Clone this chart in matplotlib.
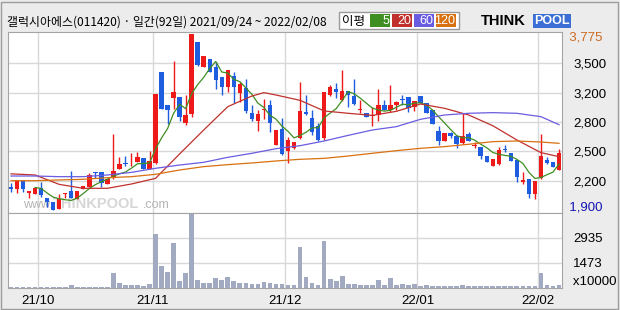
import matplotlib.pyplot as plt
import numpy as np
import pandas as pd
from matplotlib.patches import Rectangle

plt.rcParams['font.family'] = ['Noto Sans CJK KR', 'DejaVu Sans']

# 갤럭시아에스 일봉 (원), 2021/09/24 ~ 2022/02/08
opens = [2150, 2125, 2210, 2085, 2075, 2135, 2030, 1990, 1910, 2070,
         2100, 2020, 2120, 2150, 2310, 2300, 2180, 2245, 2335, 2400,
         2385, 2415, 2455, 2335, 2405, 3365, 3020, 3095, 3105, 2830,
         2925, 3690, 3425, 3510, 3425, 3320, 3215, 3325, 3150, 3200,
         2935, 2850, 2960, 3020, 2595, 2765, 2530, 2565, 2665, 2945,
         2880, 2795, 2665, 3125, 3190, 3070, 3165, 3115, 2960, 2930,
         2900, 2910, 3020, 2965, 3020, 3080, 3105, 3000, 3115, 3045,
         2960, 2745, 2630, 2720, 2690, 2615, 2710, 2580, 2575, 2475,
         2370, 2390, 2550, 2505, 2435, 2200, 2230, 2070, 2245, 2435,
         2410, 2325]
highs = [2190, 2220, 2215, 2100, 2135, 2200, 2030, 1990, 2075, 2080,
         2320, 2100, 2160, 2290, 2310, 2300, 2235, 2710, 2460, 2475,
         2505, 2520, 2455, 2530, 3135, 3375, 3020, 3485, 3105, 3125,
         3775, 3690, 3540, 3510, 3480, 3320, 3390, 3365, 3265, 3295,
         3020, 2965, 3085, 3070, 2750, 2875, 2675, 2625, 3265, 3125,
         2965, 2825, 3155, 3230, 3255, 3390, 3165, 3295, 3070, 2930,
         2995, 3185, 3070, 3230, 3065, 3125, 3105, 3060, 3115, 3045,
         2960, 2790, 2725, 2735, 2690, 2935, 2730, 2625, 2575, 2475,
         2440, 2575, 2595, 2505, 2435, 2310, 2230, 2210, 2710, 2460,
         2415, 2555]
lows = [2095, 2085, 2095, 2025, 2075, 2040, 1935, 1895, 1910, 2025,
        2030, 2020, 2120, 2150, 2245, 2150, 2180, 2225, 2335, 2370,
        2370, 2415, 2340, 2335, 2390, 2975, 2815, 2975, 2850, 2805,
        2895, 3435, 3425, 3365, 3190, 3120, 3160, 3035, 3055, 2930,
        2850, 2745, 2870, 2735, 2595, 2485, 2405, 2545, 2655, 2910,
        2700, 2640, 2645, 3110, 3090, 3065, 3000, 3020, 2930, 2890,
        2795, 2850, 2960, 2945, 2965, 3020, 2945, 2950, 3035, 2930,
        2815, 2590, 2630, 2665, 2560, 2605, 2640, 2560, 2440, 2415,
        2370, 2380, 2520, 2425, 2200, 2175, 2025, 2015, 2225, 2390,
        2355, 2325]
closes = [2120, 2220, 2125, 2100, 2135, 2065, 1980, 1905, 2015, 2080,
          2030, 2100, 2155, 2275, 2290, 2185, 2235, 2320, 2395, 2385,
          2395, 2465, 2340, 2420, 3135, 2975, 2965, 3155, 2895, 2910,
          3775, 3445, 3540, 3365, 3285, 3215, 3390, 3205, 3240, 2955,
          2870, 2920, 2975, 2825, 2750, 2495, 2645, 2625, 2955, 2920,
          2735, 2645, 3155, 3205, 3160, 3170, 3120, 3030, 2975, 2895,
          2910, 3020, 2965, 3020, 3055, 3075, 2985, 3060, 3035, 2930,
          2815, 2630, 2725, 2690, 2605, 2690, 2640, 2595, 2475, 2415,
          2440, 2540, 2540, 2425, 2255, 2220, 2070, 2210, 2475, 2405,
          2355, 2505]
# 거래량 (x10000)
volumes = [80, 80, 80, 80, 80, 80, 80, 80, 80, 80,
           160, 80, 80, 80, 80, 80, 80, 880, 275, 175,
           175, 175, 100, 235, 3175, 1295, 940, 2645, 410, 880,
           4330, 470, 295, 295, 590, 450, 645, 410, 295, 295,
           215, 255, 355, 295, 255, 215, 175, 175, 2410, 645,
           295, 160, 2765, 510, 390, 685, 235, 235, 175, 175,
           175, 450, 175, 570, 175, 215, 175, 215, 100, 160,
           100, 120, 120, 100, 100, 160, 100, 100, 100, 100,
           100, 100, 100, 100, 100, 100, 100, 100, 880, 160,
           120, 160]

# 이동평균선
ma_idx = [0, 4, 8, 12, 16, 20, 24, 28, 32, 36, 40, 44, 48, 52, 56, 60,
          64, 68, 72, 76, 80, 84, 88, 91]
ma20_idx = [0, 4, 8, 12, 16, 20, 24, 28, 32, 36, 40, 42, 44, 48, 52, 56,
            60, 64, 68, 72, 76, 80, 84, 88, 91]
ma20 = [2285, 2273, 2173, 2131, 2131, 2177, 2237, 2497, 2752, 3001, 3114,
        3150, 3125, 3068, 2955, 2930, 2908, 2951, 3029, 2983, 2912, 2798,
        2646, 2511, 2468]
ma60 = [2262, 2262, 2255, 2255, 2273, 2301, 2344, 2379, 2408, 2461, 2504,
        2553, 2585, 2635, 2695, 2752, 2788, 2866, 2912, 2930, 2937, 2930,
        2894, 2809]
ma120 = [2212, 2212, 2220, 2227, 2244, 2255, 2280, 2326, 2362, 2383, 2401,
         2422, 2440, 2450, 2475, 2504, 2532, 2557, 2575, 2600, 2628, 2635,
         2624, 2610]

price_ticks = [2212.5, 2525, 2837.5, 3150, 3462.5]
price_labels = ['2,200', '2,500', '2,800', '3,200', '3,500']
vol_ticks = [1473, 2935]
holidays = ['2021-10-04', '2021-10-11', '2021-12-31', '2022-01-31',
            '2022-02-01', '2022-02-02']

RED = '#ee1a1a'
BLUE = '#1f5de0'
C5, C20, C60, C120 = '#3e8e22', '#c0302c', '#6a5ce0', '#d87010'
GRID = '#d8d8d8'
EDGE = '#a4a4a4'
NUM = ['Liberation Sans', 'DejaVu Sans']

dates = pd.bdate_range('2021-09-24', '2022-02-08')
dates = dates[~dates.isin(pd.to_datetime(holidays))]
o, h, l, c = map(np.array, (opens, highs, lows, closes))
x = np.arange(len(c))
ma5 = pd.Series(c).rolling(5).mean()

W, H = 620, 310
fig = plt.figure(figsize=(W / 100, H / 100), dpi=100, facecolor='#ececec')
fig.patches.append(Rectangle((1 / W, 1 / H), 617 / W, 307 / H, transform=fig.transFigure,
                             fill=False, ec='#9c9c9c', lw=1))

ax = fig.add_axes([8 / W, 1 - 213 / H, 554 / W, 181 / H])
axv = fig.add_axes([8 / W, 1 - 288 / H, 554 / W, 75 / H], sharex=ax)

# 월 구분선
months = [i for i in range(1, len(dates)) if dates[i].month != dates[i - 1].month]
for a in (ax, axv):
    a.set_facecolor('white')
    for i in months:
        a.axvline(i - 0.5, color=GRID, lw=1, zorder=0)
    for s in a.spines.values():
        s.set_color(EDGE)
    a.tick_params(length=0)

for v in price_ticks:
    ax.axhline(v, color=GRID, lw=1, zorder=0)
for v in vol_ticks:
    axv.axhline(v, color=GRID, lw=1, zorder=0)

# 워터마크
ax.text(2.0, 1958, 'www.', color='#b4b4b4', fontsize=9, family=NUM, ha='left', va='center', zorder=1)
ax.text(14.1, 1960, 'THINKPOOL', color='#d6d6d6', fontsize=10.5, family=NUM, weight='bold',
        ha='center', va='center', zorder=1)
ax.text(21.9, 1958, '.com', color='#b4b4b4', fontsize=9, family=NUM, ha='left', va='center', zorder=1)

# 캔들
cols = np.where(c >= o, RED, BLUE)
ax.vlines(x, l, h, colors=cols, lw=1, zorder=3)
ax.bar(x, np.maximum(np.abs(c - o), 9), bottom=np.minimum(o, c), width=0.74,
       color=cols, lw=0, zorder=3)

# 이동평균
ax.plot(x, ma5, color=C5, lw=0.9, zorder=4)
ax.plot(ma20_idx, ma20, color=C20, lw=0.9, zorder=4)
ax.plot(ma_idx, ma60, color=C60, lw=0.9, zorder=4)
ax.plot(ma_idx, ma120, color=C120, lw=0.9, zorder=4)

ax.set_xlim(-0.5, len(c) - 0.5)
ax.set_ylim(1868, 3796)
ax.yaxis.tick_right()
ax.set_yticks(price_ticks)
ax.set_yticklabels(price_labels, family=NUM, fontsize=9.5)
ax.tick_params(axis='y', pad=8)
ax.tick_params(axis='x', labelbottom=False)
ax.text(1.0, 1.0, '  3,775', transform=ax.transAxes, color='#cc6a20', family=NUM,
        fontsize=9.5, ha='left', va='top')
ax.text(1.0, 0.0, '  1,900', transform=ax.transAxes, color='#1414b4', family=NUM,
        fontsize=9.5, ha='left', va='bottom')

# 거래량
axv.bar(x, volumes, width=0.78, color='#a2aac2', lw=0, zorder=2)
axv.set_ylim(0, 4370)
axv.yaxis.tick_right()
axv.set_yticks(vol_ticks)
axv.set_yticklabels([str(v) for v in vol_ticks], family=NUM, fontsize=9.5)
axv.tick_params(axis='y', pad=8)
axv.set_xticks([i - 0.5 for i in months])
axv.set_xticklabels([dates[i].strftime('%y/%m') for i in months], family=NUM, fontsize=9.5)
axv.tick_params(axis='x', pad=5)
axv.text(1.0, 0.0, '   x10000', transform=axv.transAxes, family=NUM, fontsize=9.5,
         ha='left', va='bottom')

# 제목
fig.text(7 / W, 1 - 22 / H, '갤럭시아에스(011420) · 일간(92일) 2021/09/24 ~ 2022/02/08',
         fontsize=8.6, va='center', ha='left')

# 이평 범례
fig.patches.append(Rectangle((339 / W, 1 - 29 / H), 120 / W, 17 / H, transform=fig.transFigure,
                             fc='white', ec='#9a9a9a', lw=1))
fig.text(342 / W, 1 - 21 / H, '이평', fontsize=9, va='center', ha='left')
for k, (lab, col) in enumerate(zip(['5', '20', '60', '120'], [C5, C20, C60, C120])):
    x0 = 370 + 22 * k
    fig.patches.append(Rectangle((x0 / W, 1 - 27 / H), 20 / W, 13 / H,
                                 transform=fig.transFigure, fc=col, lw=0))
    fig.text((x0 + 19) / W, 1 - 20.5 / H, lab, color='white', fontsize=9, family=NUM,
             va='center', ha='right')

# 로고
fig.text(481 / W, 1 - 21 / H, 'THINK', fontsize=10.5, family=NUM, weight='bold',
         va='center', ha='left')
fig.text(534 / W, 1 - 21 / H, 'POOL', fontsize=9, family=NUM, weight='bold', color='white',
         va='center', ha='left',
         bbox=dict(boxstyle='square,pad=0.1', fc='#3b6fd6', ec='none'))

fig.savefig('out.png', dpi=100, facecolor=fig.get_facecolor())
